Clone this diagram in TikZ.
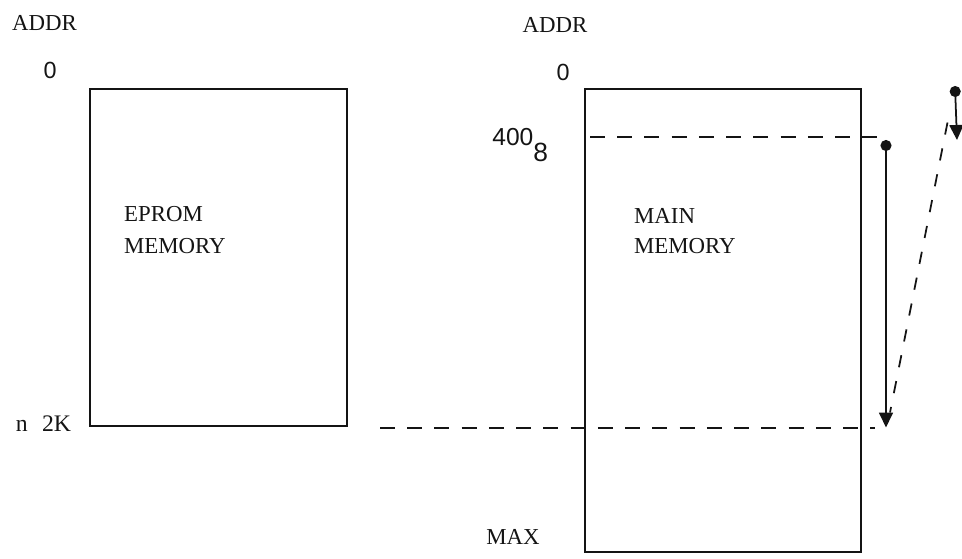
\documentclass[tikz,border=0pt]{standalone}
\usepackage{fontspec}
\setmainfont{Liberation Serif}
\newfontfamily\plainfont{Liberation Sans}
\usetikzlibrary{positioning,arrows.meta}
\definecolor{ink}{RGB}{20,20,20}
\tikzset{
  mem/.style={draw=ink, line width=1.1pt, inner sep=0pt},
  lbl/.style={font=\fontsize{13}{15}\selectfont, text=ink, inner sep=1pt},
  zero/.style={font=\plainfont\fontsize{13.3}{15}\selectfont, text=ink, inner sep=1pt},
  gap/.style={draw=ink, line width=1.1pt, dash pattern=on 8.5pt off 7pt},
  span/.style={{Circle[length=2.2mm]}-{Triangle[length=3mm,width=2.8mm]}, line width=1pt, draw=ink},
}
\begin{document}
\begin{tikzpicture}
  \useasboundingbox (0,0) rectangle (19.24,-11.16);
  % the two memories
  \node[mem, minimum width=5.14cm, minimum height=6.74cm] (eprom) at (4.37,-5.15) {};
  \node[mem, minimum width=5.52cm, minimum height=9.26cm] (main) at (14.46,-6.41) {};
  % addresses
  \node[lbl] (addrl) at (0.89,-0.46) {ADDR};
  \node[zero] (zerol) at (1.0,-1.40) {0};
  \node[lbl, font=\fontsize{13.5}{15}\selectfont] (nk) at (0.87,-8.48) {n\hspace{0.6em}2K};
  \node[lbl] (addrr) at (11.1,-0.5) {ADDR};
  \node[zero] (zeror) at (11.26,-1.44) {0};
  \node[zero, font=\plainfont\fontsize{14}{16}\selectfont, anchor=base west, inner sep=0pt] (oct) at (9.84,-2.90)
       {400\raisebox{-9.6pt}{\fontsize{15}{17}\selectfont 8}};
  \node[lbl] (max) at (10.26,-10.74) {MAX};
  \node[lbl, anchor=west] (ep1) at (2.44,-4.29) {EPROM};
  \node[lbl, anchor=west] (ep2) at (2.44,-4.93) {MEMORY};
  \node[lbl, anchor=west] (mm1) at (12.64,-4.32) {MAIN};
  \node[lbl, anchor=west] (mm2) at (12.64,-4.93) {MEMORY};
  % dashed marks
  \coordinate (ta) at (11.80,-2.74);
  \coordinate (tb) at (17.55,-2.74);
  \coordinate (ba) at (7.60,-8.56);
  \coordinate (bb) at (17.50,-8.56);
  \draw[gap] (ta) -- (tb);
  \draw[gap] (ba) -- (bb);
  % moved block
  \coordinate (s0) at (17.72,-2.80);
  \coordinate (s1) at (17.72,-8.55);
  \draw[span] (s0) -- (s1);
  \coordinate (r0) at (19.10,-1.72);
  \coordinate (r1) at (19.14,-2.80);
  \draw[span] (r0) -- (r1);
  \coordinate (d0) at (18.95,-2.45);
  \coordinate (d1) at (17.80,-8.25);
  \draw[gap, line width=1pt, dash pattern=on 7pt off 8pt] (d0) -- (d1);
\end{tikzpicture}
\end{document}
